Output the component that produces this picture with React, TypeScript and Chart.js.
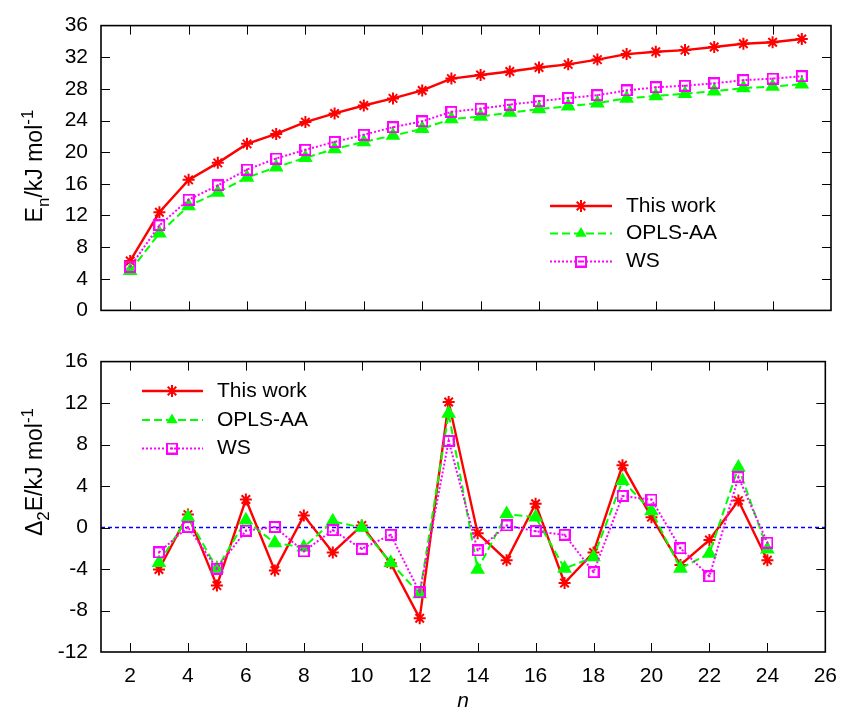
import React, { useEffect, useRef } from "react";
import { Chart, registerables } from "chart.js";

Chart.register(...registerables);

const FONT_FAMILY = "'Liberation Sans', Arial, Helvetica, sans-serif";
const FONT_SIZE = 21;
const TITLE_SIZE = 23;

const RED = "#ff0000";
const GREEN = "#00ff00";
const MAGENTA = "#ff00ff";
const BLUE = "#0000ff";

// ---------- Top panel: E_n ----------
const nTop = [2, 3, 4, 5, 6, 7, 8, 9, 10, 11, 12, 13, 14, 15, 16, 17, 18, 19, 20, 21, 22, 23, 24, 25];
const enThisWork = [6.25, 12.4, 16.5, 18.65, 21.05, 22.3, 23.8, 24.9, 25.9, 26.8, 27.8, 29.3, 29.75, 30.2, 30.7, 31.1, 31.7, 32.4, 32.7, 32.9, 33.3, 33.7, 33.9, 34.3];
const enOPLS = [5.0, 9.75, 13.2, 14.9, 16.8, 18.1, 19.3, 20.4, 21.3, 22.1, 22.95, 24.2, 24.5, 25.0, 25.45, 25.8, 26.2, 26.8, 27.1, 27.4, 27.7, 28.1, 28.3, 28.6];
const enWS = [5.5, 10.75, 14.0, 15.8, 17.8, 19.2, 20.3, 21.3, 22.2, 23.15, 23.9, 25.1, 25.5, 26.0, 26.45, 26.85, 27.2, 27.8, 28.2, 28.4, 28.7, 29.1, 29.3, 29.6];

// ---------- Bottom panel: Delta_2 E ----------
const nBottom = [3, 4, 5, 6, 7, 8, 9, 10, 11, 12, 13, 14, 15, 16, 17, 18, 19, 20, 21, 22, 23, 24];
const d2ThisWork = [-4.05, 1.25, -5.6, 2.7, -4.15, 1.15, -2.4, 0.2, -3.45, -8.75, 12.1, -0.55, -3.15, 2.3, -5.35, -2.4, 6.0, 1.0, -3.6, -1.2, 2.6, -3.15];
const d2OPLS = [-3.4, 1.0, -3.95, 0.7, -1.5, -1.9, 0.6, 0.0, -3.4, -6.4, 11.0, -4.05, 1.3, 1.0, -3.95, -2.85, 4.5, 1.6, -3.95, -2.5, 5.8, -2.1];
const d2WS = [-2.4, 0.05, -3.95, -0.3, 0.05, -2.3, -0.25, -2.05, -0.7, -6.25, 8.35, -2.2, 0.2, -0.35, -0.7, -4.3, 3.05, 2.7, -2.0, -4.7, 4.85, -1.45];

const zeroLineX = [1, 26];
const zeroLineY = [0, 0];

// ---------- Axes ----------
const xMin = 1;
const xMax = 26;
const xTickValues = [2, 4, 6, 8, 10, 12, 14, 16, 18, 20, 22, 24, 26];
const topYTickValues = [0, 4, 8, 12, 16, 20, 24, 28, 32, 36];
const bottomYTickValues = [-12, -8, -4, 0, 4, 8, 12, 16];

const seriesLabels = ["This work", "OPLS-AA", "WS"];
const xTitle = "n";

type Marker = "star" | "triangle" | "square";

function makeSquare(): HTMLCanvasElement {
  const c = document.createElement("canvas");
  c.width = 12;
  c.height = 12;
  const g = c.getContext("2d")!;
  g.strokeStyle = MAGENTA;
  g.lineWidth = 2;
  g.strokeRect(1, 1, 10, 10);
  g.fillStyle = MAGENTA;
  g.fillRect(5, 5, 2, 2);
  return c;
}

function drawMarker(ctx: CanvasRenderingContext2D, m: Marker, x: number, y: number, sq: HTMLCanvasElement) {
  ctx.save();
  ctx.setLineDash([]);
  if (m === "star") {
    const r = 6;
    ctx.strokeStyle = RED;
    ctx.lineWidth = 2;
    ctx.beginPath();
    for (let k = 0; k < 4; k++) {
      const a = (k * Math.PI) / 4;
      ctx.moveTo(x - Math.cos(a) * r, y - Math.sin(a) * r);
      ctx.lineTo(x + Math.cos(a) * r, y + Math.sin(a) * r);
    }
    ctx.stroke();
  } else if (m === "triangle") {
    const r = 6.5;
    ctx.fillStyle = GREEN;
    ctx.beginPath();
    let rad = 0;
    ctx.moveTo(x + Math.sin(rad) * r, y - Math.cos(rad) * r);
    rad += (2 * Math.PI) / 3;
    ctx.lineTo(x + Math.sin(rad) * r, y - Math.cos(rad) * r);
    rad += (2 * Math.PI) / 3;
    ctx.lineTo(x + Math.sin(rad) * r, y - Math.cos(rad) * r);
    ctx.closePath();
    ctx.fill();
  } else {
    ctx.drawImage(sq, x - sq.width / 2, y - sq.height / 2);
  }
  ctx.restore();
}

type Part = { text: string; sub?: boolean; sup?: boolean };

function drawRichRotated(ctx: CanvasRenderingContext2D, parts: Part[], cx: number, cy: number, size: number) {
  const small = Math.round(size * 0.75);
  let total = 0;
  const widths = parts.map((p) => {
    ctx.font = `${p.sub || p.sup ? small : size}px ${FONT_FAMILY}`;
    const w = ctx.measureText(p.text).width;
    total += w;
    return w;
  });
  ctx.save();
  ctx.translate(cx, cy);
  ctx.rotate(-Math.PI / 2);
  ctx.textAlign = "left";
  ctx.textBaseline = "alphabetic";
  ctx.fillStyle = "#000";
  let x = -total / 2;
  const base = size * 0.36;
  parts.forEach((p, i) => {
    ctx.font = `${p.sub || p.sup ? small : size}px ${FONT_FAMILY}`;
    const dy = p.sub ? size * 0.28 : p.sup ? -size * 0.42 : 0;
    ctx.fillText(p.text, x, base + dy);
    x += widths[i];
  });
  ctx.restore();
}

interface LegendItem {
  label: string;
  color: string;
  dash: number[];
  width: number;
  marker: Marker;
}

interface FrameCfg {
  xTicks: number[];
  yTicks: number[];
  legend: { x0: number; x1: number; xm: number; xt: number; rows: number[]; items: LegendItem[] };
  yTitle: { parts: Part[]; cx: number; cy: number };
  square: HTMLCanvasElement;
}

function makeFramePlugin(cfg: FrameCfg) {
  return {
    id: "gnuplotFrame",
    afterDatasetsDraw(chart: any) {
      const { ctx, chartArea: a, scales } = chart;
      const xs = scales.x;
      const ys = scales.y;
      const TL = 9;
      ctx.save();
      ctx.setLineDash([]);
      ctx.strokeStyle = "#000";
      ctx.lineWidth = 1;
      ctx.beginPath();
      for (const v of cfg.xTicks) {
        const px = Math.round(xs.getPixelForValue(v)) + 0.5;
        if (px <= a.left + 2 || px >= a.right - 2) continue;
        ctx.moveTo(px, a.bottom);
        ctx.lineTo(px, a.bottom - TL);
        ctx.moveTo(px, a.top);
        ctx.lineTo(px, a.top + TL);
      }
      for (const v of cfg.yTicks) {
        const py = Math.round(ys.getPixelForValue(v)) + 0.5;
        if (py <= a.top + 2 || py >= a.bottom - 2) continue;
        ctx.moveTo(a.left, py);
        ctx.lineTo(a.left + TL, py);
        ctx.moveTo(a.right, py);
        ctx.lineTo(a.right - TL, py);
      }
      ctx.stroke();
      ctx.lineWidth = 1.6;
      ctx.strokeRect(a.left, a.top, a.right - a.left, a.bottom - a.top);

      // legend
      const L = cfg.legend;
      L.items.forEach((it, i) => {
        const y = L.rows[i];
        ctx.save();
        ctx.strokeStyle = it.color;
        ctx.lineWidth = it.width;
        ctx.setLineDash(it.dash);
        ctx.beginPath();
        ctx.moveTo(L.x0, y);
        ctx.lineTo(L.x1, y);
        ctx.stroke();
        ctx.restore();
        drawMarker(ctx, it.marker, L.xm, y, cfg.square);
        ctx.fillStyle = "#000";
        ctx.font = `${FONT_SIZE}px ${FONT_FAMILY}`;
        ctx.textAlign = "left";
        ctx.textBaseline = "middle";
        ctx.fillText(it.label, L.xt, y);
      });

      drawRichRotated(ctx, cfg.yTitle.parts, cfg.yTitle.cx, cfg.yTitle.cy, TITLE_SIZE);
      ctx.restore();
    },
  };
}

function ds(label: string, xs: number[], ys: number[], color: string, dash: number[], width: number, pointStyle: any, radius: number, bg: string, order: number) {
  return {
    label,
    data: xs.map((x, i) => ({ x, y: ys[i] })),
    borderColor: color,
    backgroundColor: bg,
    borderWidth: width,
    borderDash: dash,
    pointStyle,
    pointRadius: radius,
    pointBorderColor: color,
    pointBackgroundColor: bg,
    pointBorderWidth: 2,
    tension: 0,
    fill: false,
    order,
  };
}

function legendItems(): LegendItem[] {
  return [
    { label: seriesLabels[0], color: RED, dash: [], width: 2.4, marker: "star" },
    { label: seriesLabels[1], color: GREEN, dash: [8, 4], width: 2, marker: "triangle" },
    { label: seriesLabels[2], color: MAGENTA, dash: [2, 2], width: 2, marker: "square" },
  ];
}

function makeConfig(opts: {
  xs: number[];
  s1: number[];
  s2: number[];
  s3: number[];
  yMin: number;
  yMax: number;
  yTicks: number[];
  showX: boolean;
  xHeight: number;
  padTop: number;
  withZero: boolean;
  frame: FrameCfg;
  sq: HTMLCanvasElement;
}): any {
  const datasets: any[] = [
    ds(seriesLabels[0], opts.xs, opts.s1, RED, [], 2.4, "star", 6, RED, 2),
    ds(seriesLabels[1], opts.xs, opts.s2, GREEN, [8, 4], 2, "triangle", 6.5, GREEN, 1),
    ds(seriesLabels[2], opts.xs, opts.s3, MAGENTA, [2, 2], 2, opts.sq, 6, "rgba(0,0,0,0)", 0),
  ];
  if (opts.withZero) {
    datasets.push({
      label: "zero",
      data: zeroLineX.map((x, i) => ({ x, y: zeroLineY[i] })),
      borderColor: BLUE,
      borderWidth: 1.5,
      borderDash: [4, 3],
      pointRadius: 0,
      fill: false,
      order: 3,
    });
  }
  return {
    type: "line",
    data: { datasets },
    options: {
      responsive: false,
      animation: false,
      devicePixelRatio: 1,
      layout: { padding: { top: opts.padTop, right: 18, left: 0, bottom: 0 } },
      plugins: { legend: { display: false }, tooltip: { enabled: false } },
      scales: {
        x: {
          type: "linear",
          min: xMin,
          max: xMax,
          afterBuildTicks: (s: any) => {
            s.ticks = xTickValues.map((v) => ({ value: v }));
          },
          afterFit: (s: any) => {
            s.height = opts.xHeight;
          },
          grid: { display: false, drawTicks: false },
          border: { display: false },
          ticks: {
            display: opts.showX,
            color: "#000",
            font: { family: FONT_FAMILY, size: FONT_SIZE },
            padding: 12,
            maxRotation: 0,
            autoSkip: false,
          },
          title: {
            display: opts.showX,
            text: xTitle,
            color: "#000",
            font: { family: FONT_FAMILY, size: FONT_SIZE, style: "italic" },
            padding: { top: 0, bottom: 3 },
          },
        },
        y: {
          type: "linear",
          min: opts.yMin,
          max: opts.yMax,
          afterBuildTicks: (s: any) => {
            s.ticks = opts.yTicks.map((v) => ({ value: v }));
          },
          afterFit: (s: any) => {
            s.width = 101;
          },
          grid: { display: false, drawTicks: false },
          border: { display: false },
          ticks: {
            color: "#000",
            font: { family: FONT_FAMILY, size: FONT_SIZE },
            padding: 13,
            autoSkip: false,
          },
        },
      },
    },
    plugins: [makeFramePlugin(opts.frame)],
  };
}

export default function App() {
  const topRef = useRef<HTMLCanvasElement>(null);
  const botRef = useRef<HTMLCanvasElement>(null);

  useEffect(() => {
    const sq = makeSquare();
    const top = new Chart(
      topRef.current!,
      makeConfig({
        xs: nTop,
        s1: enThisWork,
        s2: enOPLS,
        s3: enWS,
        yMin: 0,
        yMax: 36,
        yTicks: topYTickValues,
        showX: false,
        xHeight: 16,
        padTop: 22,
        withZero: false,
        sq,
        frame: {
          xTicks: xTickValues,
          yTicks: topYTickValues,
          legend: { x0: 550, x1: 612, xm: 581, xt: 626, rows: [206, 233.5, 261.5], items: legendItems() },
          yTitle: {
            parts: [{ text: "E" }, { text: "n", sub: true }, { text: "/kJ mol" }, { text: "-1", sup: true }],
            cx: 34,
            cy: 166,
          },
          square: sq,
        },
      })
    );
    const bot = new Chart(
      botRef.current!,
      makeConfig({
        xs: nBottom,
        s1: d2ThisWork,
        s2: d2OPLS,
        s3: d2WS,
        yMin: -12,
        yMax: 16,
        yTicks: bottomYTickValues,
        showX: true,
        xHeight: 65,
        padTop: 17,
        withZero: true,
        sq,
        frame: {
          xTicks: xTickValues,
          yTicks: bottomYTickValues,
          legend: { x0: 142, x1: 203, xm: 172, xt: 217, rows: [55, 84, 112.5], items: legendItems() },
          yTitle: {
            parts: [{ text: "\u0394" }, { text: "2", sub: true }, { text: "E/kJ mol" }, { text: "-1", sup: true }],
            cx: 34,
            cy: 136,
          },
          square: sq,
        },
      })
    );
    return () => {
      top.destroy();
      bot.destroy();
    };
  }, []);

  return (
    <div style={{ position: "absolute", left: 0, top: 0, width: 849, height: 717, background: "#fff" }}>
      <canvas
        ref={topRef}
        width={849}
        height={336}
        style={{ position: "absolute", left: 0, top: 0, width: 849, height: 336 }}
      />
      <canvas
        ref={botRef}
        width={849}
        height={381}
        style={{ position: "absolute", left: 0, top: 336, width: 849, height: 381 }}
      />
    </div>
  );
}
